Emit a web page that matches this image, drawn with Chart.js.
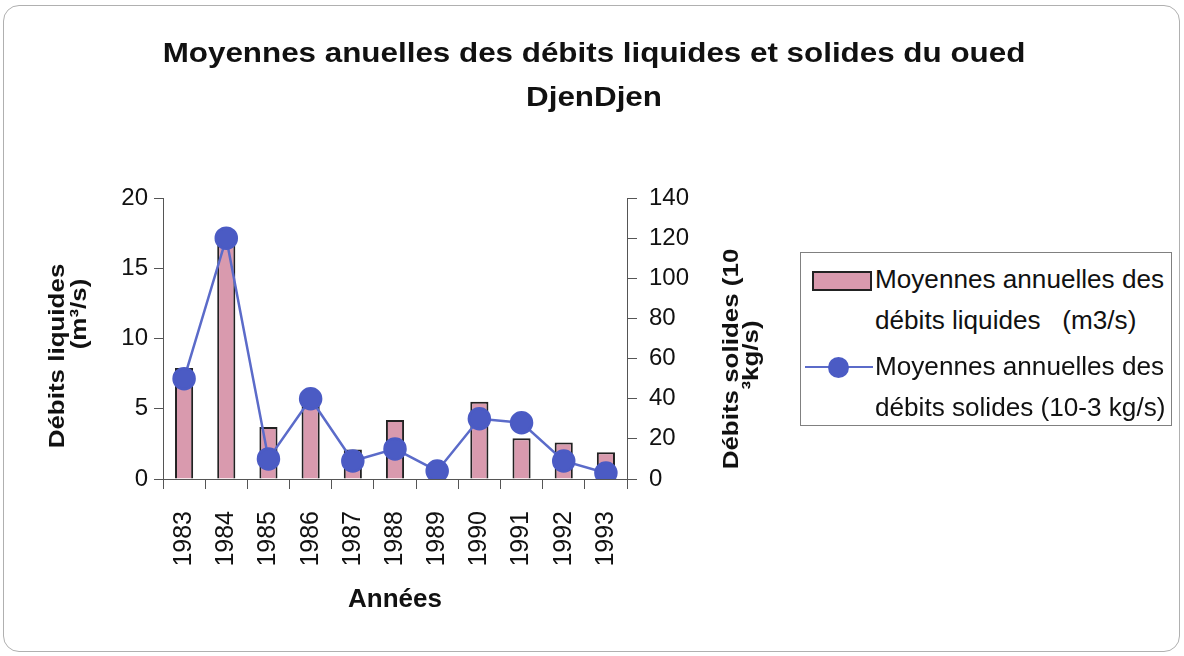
<!DOCTYPE html>
<html>
<head>
<meta charset="utf-8">
<script src="https://cdn.jsdelivr.net/npm/chart.js@4/dist/chart.umd.min.js"></script>
<style>
  body { margin: 0; background: #fff; }
  #wrap { position: relative; width: 1184px; height: 656px; }
  #frame {
    position: absolute; left: 3px; top: 5px; width: 1175px; height: 645px;
    border: 1px solid #b0b0b0; border-radius: 16px;
  }
  #chart { position: absolute; left: 0; top: 0; }
  #legend {
    position: absolute; left: 800px; top: 252px; width: 370px; height: 172px;
    border: 1px solid #808080; font-family: "Liberation Sans", Arial, sans-serif;
    font-size: 25px; color: #111; background: #fff;
  }
  .item {
    position: absolute; left: 74px; line-height: 41px; white-space: nowrap;
    transform: scaleX(1.045); transform-origin: left center;
  }
  .swatch {
    position: absolute; left: 11px; top: 18px; width: 56px; height: 16px;
    background: #d99aae; border: 2px solid #222;
  }
  .lineKey { position: absolute; left: 4px; top: 113px; width: 68px; height: 2px; background: #5b6bc9; }
  .dot { position: absolute; left: 27px; top: 104px; width: 21px; height: 21px; border-radius: 50%; background: #4b5bc4; }
</style>
</head>
<body>
<div id="wrap">
  <div id="frame"></div>
  <canvas id="chart" width="1184" height="656"></canvas>
  <div id="legend">
    <div class="swatch"></div>
    <div class="item" style="top:6px">Moyennes annuelles des<br>débits liquides &nbsp;&nbsp;(m3/s)</div>
    <div class="lineKey"></div>
    <div class="dot"></div>
    <div class="item" style="top:93px">Moyennes annuelles des<br>débits solides (10-3 kg/s)</div>
  </div>
</div>
<script>
// Data
const years = ["1983", "1984", "1985", "1986", "1987", "1988", "1989", "1990", "1991", "1992", "1993"];
const debitsLiquides = [7.9, 17.0, 3.7, 5.5, 2.1, 4.2, 0.4, 5.5, 2.9, 2.6, 1.9];
const debitsSolides = [50, 120, 10, 40, 9, 15, 4, 30, 28, 9, 3];
const leftTicks = [0, 5, 10, 15, 20];
const rightTicks = [0, 20, 40, 60, 80, 100, 120, 140];
const titleLines = ["Moyennes anuelles des débits liquides et solides du oued", "DjenDjen"];

const fontFamily = '"Liberation Sans", Arial, sans-serif';

// draw one line of text, stretched along its own direction like the original
function stretchedText(ctx, text, x, y, angle, stretch) {
  ctx.save();
  ctx.translate(x, y);
  ctx.rotate(angle);
  ctx.scale(stretch, 1);
  ctx.fillText(text, 0, 0);
  ctx.restore();
}

// Title and axis titles drawn by hand so lines sit where they do in the picture
const handTexts = {
  id: "handTexts",
  afterDraw(chart) {
    const ctx = chart.ctx;
    ctx.save();
    ctx.fillStyle = "#111";
    ctx.textAlign = "center";

    ctx.font = "bold 28px " + fontFamily;
    ctx.textBaseline = "alphabetic";
    stretchedText(ctx, titleLines[0], 594, 62, 0, 1.12);
    stretchedText(ctx, titleLines[1], 594, 106, 0, 1.12);

    ctx.font = "bold 22px " + fontFamily;
    ctx.textBaseline = "middle";
    const up = -Math.PI / 2;
    stretchedText(ctx, "Débits liquides", 58, 356, up, 1.18);
    stretchedText(ctx, "(m³/s)", 80, 314, up, 1.18);
    stretchedText(ctx, "Débits solides (10", 732, 359, up, 1.18);
    stretchedText(ctx, "³kg/s)", 752, 355, up, 1.18);
    ctx.restore();
  },
};

const canvasRef = document.getElementById("chart");

new Chart(canvasRef, {
  type: "bar",
  data: {
    labels: years,
    datasets: [
      {
        type: "line",
        label: "Moyennes annuelles des débits solides (10-3 kg/s)",
        data: debitsSolides,
        yAxisID: "y1",
        borderColor: "#5b6bc9",
        borderWidth: 2.5,
        backgroundColor: "#4b5bc4",
        pointBackgroundColor: "#4b5bc4",
        pointBorderColor: "#4b5bc4",
        pointRadius: 10.5,
        tension: 0,
        order: 1,
      },
      {
        type: "bar",
        label: "Moyennes annuelles des débits liquides (m3/s)",
        data: debitsLiquides,
        yAxisID: "y",
        backgroundColor: "#d99aae",
        borderColor: "#222",
        borderWidth: 2,
        barPercentage: 0.43,
        categoryPercentage: 1,
        order: 2,
      },
    ],
  },
  options: {
    responsive: false,
    animation: false,
    layout: { padding: { top: 198, left: 0, right: 0, bottom: 41 } },
    plugins: {
      legend: { display: false },
      tooltip: { enabled: false },
      title: { display: false },
    },
    scales: {
      x: {
        offset: true,
        afterFit: function (scale) { scale.height = 136; },
        grid: { display: true, offset: true, drawOnChartArea: false, tickLength: 10, color: "#555" },
        border: { display: true, color: "#555", width: 1 },
        ticks: {
          autoSkip: false,
          maxRotation: 90,
          minRotation: 90,
          padding: 22,
          color: "#111",
          font: { family: fontFamily, size: 25 },
        },
        title: {
          display: true,
          text: "Années",
          color: "#111",
          font: { family: fontFamily, size: 26, weight: "bold", lineHeight: 1.2 },
          padding: { top: 0, bottom: 0 },
        },
      },
      y: {
        position: "left",
        min: 0,
        max: 20,
        afterFit: function (scale) { scale.width = 163; },
        afterBuildTicks: function (scale) { scale.ticks = leftTicks.map(function (v) { return { value: v }; }); },
        grid: { display: true, drawOnChartArea: false, tickLength: 9, color: "#555" },
        border: { display: true, color: "#555", width: 1 },
        ticks: { padding: 6, color: "#111", font: { family: fontFamily, size: 24 } },
      },
      y1: {
        position: "right",
        min: 0,
        max: 140,
        afterFit: function (scale) { scale.width = 557; },
        afterBuildTicks: function (scale) { scale.ticks = rightTicks.map(function (v) { return { value: v }; }); },
        grid: { display: true, drawOnChartArea: false, tickLength: 10, color: "#555" },
        border: { display: true, color: "#555", width: 1 },
        ticks: { padding: 12, color: "#111", font: { family: fontFamily, size: 24 } },
      },
    },
  },
  plugins: [handTexts],
});
</script>
</body>
</html>
